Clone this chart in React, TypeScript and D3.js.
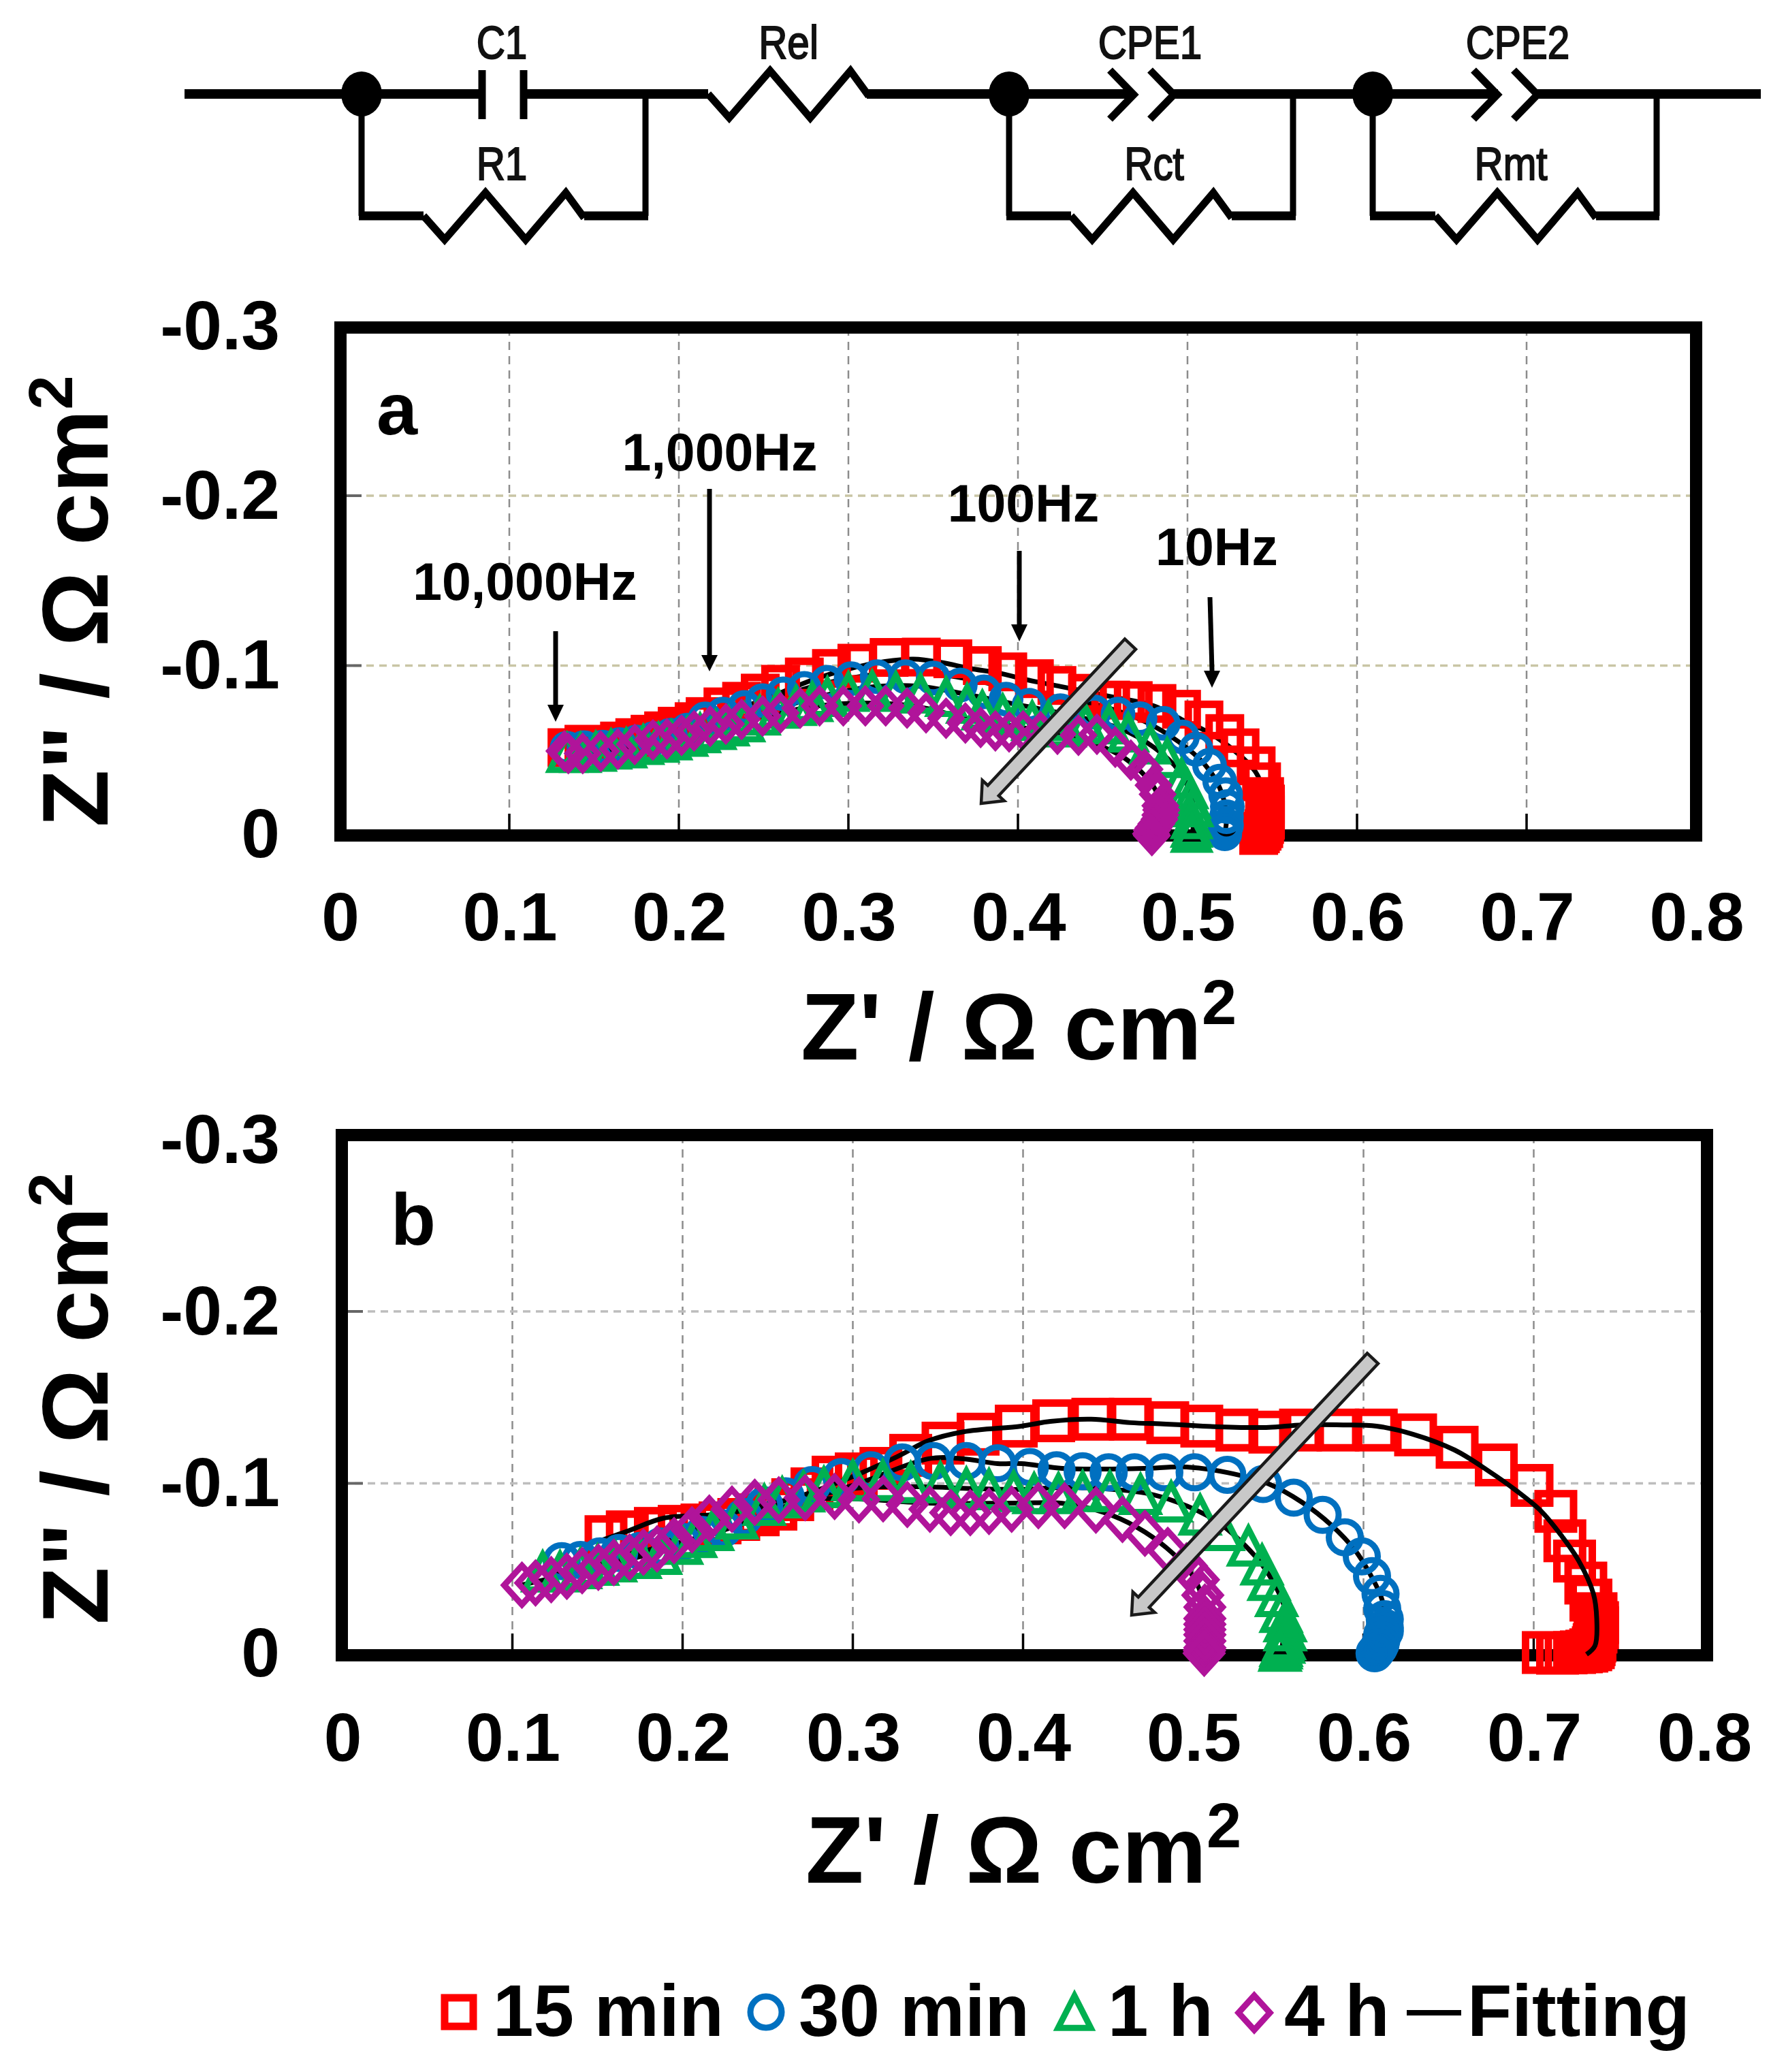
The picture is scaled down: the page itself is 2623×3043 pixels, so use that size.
import React from 'react';
import * as d3 from 'd3';

type Pt = [number, number];

const xTicks = [0, 0.1, 0.2, 0.3, 0.4, 0.5, 0.6, 0.7, 0.8];
const yTicks = [0, -0.1, -0.2, -0.3];
const xTickLabels = ['0', '0.1', '0.2', '0.3', '0.4', '0.5', '0.6', '0.7', '0.8'];
const yTickLabels = ['0', '-0.1', '-0.2', '-0.3'];

const legendLabels = ['15 min', '30 min', '1 h', '4 h', 'Fitting'];

// panel a: [Z', Z'']
const a15min: Pt[] = [[.134,-.0517],[.144,-.0537],[.155,-.053],[.165,-.0556],[.174,-.0576],[.183,-.0596],[.191,-.0616],[.199,-.0643],[.209,-.067],[.2155,-.07],[.226,-.0757],[.237,-.079],[.248,-.0838],[.26,-.089],[.274,-.0933],[.29,-.0983],[.305,-.1014],[.324,-.1048],[.343,-.105],[.3616,-.104],[.379,-.1],[.394,-.0963],[.4097,-.0923],[.423,-.0883],[.441,-.0837],[.4547,-.0797],[.468,-.0794],[.482,-.0777],[.4965,-.0743],[.5097,-.068],[.522,-.06],[.531,-.0516],[.5405,-.041],[.5437,-.0316],[.5455,-.0229],[.546,-.0185],[.546,-.0144],[.546,-.012],[.546,-.009],[.5455,-.0065],[.545,-.004],[.544,-.0025],[.543,-.001],[.542,0]];
const a30min: Pt[] = [[.134,-.0513],[.144,-.0517],[.155,-.052],[.165,-.0535],[.175,-.055],[.185,-.057],[.195,-.059],[.205,-.062],[.2155,-.0686],[.226,-.0714],[.2386,-.0754],[.2494,-.0794],[.2615,-.0834],[.274,-.0866],[.2876,-.0902],[.3016,-.0923],[.317,-.0935],[.3337,-.0935],[.35,-.0927],[.366,-.0886],[.38,-.0846],[.393,-.0803],[.4066,-.0767],[.425,-.0734],[.445,-.0727],[.459,-.0714],[.472,-.0687],[.4857,-.066],[.497,-.058],[.505,-.0507],[.513,-.0413],[.519,-.032],[.5225,-.024],[.5235,-.017],[.523,-.011],[.523,-.006],[.522,-.003],[.522,-.001]];
const a1h: Pt[] = [[.134,-.047],[.142,-.047],[.151,-.0477],[.16,-.049],[.169,-.0497],[.179,-.0517],[.188,-.053],[.1956,-.0544],[.205,-.0565],[.2125,-.0586],[.2217,-.0605],[.2294,-.0626],[.2386,-.065],[.2477,-.069],[.2586,-.073],[.269,-.0746],[.2787,-.077],[.2876,-.08],[.3,-.083],[.314,-.0838],[.328,-.083],[.3425,-.082],[.3576,-.08],[.37,-.076],[.379,-.072],[.391,-.0698],[.4,-.068],[.4084,-.0658],[.418,-.0658],[.428,-.062],[.44,-.064],[.4538,-.0638],[.465,-.059],[.478,-.052],[.488,-.044],[.4965,-.032],[.5,-.0257],[.5015,-.02],[.503,-.015],[.5025,-.008],[.5025,-.003],[.5025,0]];
const a4h: Pt[] = [[.1325,-.0497],[.1348,-.0483],[.1433,-.0483],[.154,-.0496],[.164,-.0509],[.174,-.0536],[.1847,-.0563],[.193,-.0569],[.2016,-.059],[.209,-.0616],[.2185,-.0643],[.2277,-.0656],[.237,-.0683],[.2494,-.0703],[.26,-.0722],[.2716,-.075],[.283,-.0763],[.297,-.0763],[.31,-.0763],[.322,-.0763],[.3346,-.075],[.3458,-.0722],[.3576,-.069],[.369,-.0662],[.378,-.0636],[.3867,-.0616],[.3948,-.061],[.403,-.0616],[.4133,-.061],[.4233,-.0596],[.4357,-.059],[.4466,-.0596],[.4574,-.052],[.4666,-.0443],[.4747,-.039],[.48,-.0296],[.4824,-.0242],[.484,-.0175],[.4845,-.015],[.484,-.012],[.4835,-.0095],[.4816,-.0068],[.48,-.0045],[.479,-.003],[.4785,-.001],[.479,0]];
const aFit15: Pt[] = [[.134,-.05],[.16,-.054],[.19,-.06],[.22,-.069],[.25,-.08],[.28,-.092],[.3,-.098],[.3217,-.1024],[.3384,-.1038],[.355,-.1018],[.3716,-.0983],[.3884,-.0957],[.405,-.0917],[.425,-.0877],[.455,-.0817],[.48,-.0763],[.4965,-.0683],[.513,-.0603],[.5297,-.0482],[.54,-.0376],[.545,-.0256],[.5457,-.0148],[.545,0]];
const aFit30: Pt[] = [[.134,-.05],[.16,-.052],[.19,-.058],[.22,-.067],[.25,-.078],[.28,-.088],[.31,-.094],[.335,-.096],[.36,-.094],[.39,-.088],[.42,-.082],[.45,-.076],[.475,-.067],[.495,-.055],[.51,-.042],[.519,-.028],[.523,-.012],[.522,-.001]];
const aFit1h: Pt[] = [[.134,-.048],[.16,-.05],[.19,-.054],[.22,-.062],[.25,-.072],[.28,-.081],[.31,-.087],[.34,-.088],[.37,-.083],[.4,-.077],[.43,-.071],[.46,-.063],[.48,-.052],[.495,-.038],[.503,-.02],[.503,-.001]];
const aFit4h: Pt[] = [[.133,-.049],[.16,-.051],[.19,-.056],[.22,-.063],[.25,-.07],[.28,-.076],[.31,-.078],[.34,-.076],[.37,-.069],[.4,-.064],[.43,-.058],[.455,-.05],[.47,-.04],[.482,-.025],[.484,-.01],[.481,-.001]];

// panel b
const b15min: Pt[] = [[.155,-.069],[.1675,-.0718],[.184,-.0738],[.198,-.075],[.2114,-.0758],[.222,-.077],[.233,-.079],[.2444,-.0817],[.2548,-.085],[.2647,-.0905],[.276,-.0968],[.2884,-.1036],[.302,-.1055],[.3165,-.1087],[.334,-.1163],[.353,-.1234],[.3736,-.1286],[.396,-.1333],[.418,-.1364],[.441,-.1373],[.463,-.1373],[.485,-.1353],[.505,-.1333],[.5256,-.131],[.545,-.1298],[.563,-.131],[.585,-.131],[.6075,-.131],[.6306,-.1282],[.655,-.121],[.678,-.1107],[.699,-.0988],[.713,-.0837],[.7183,-.0666],[.724,-.0548],[.7306,-.042],[.7336,-.0321],[.7366,-.0242],[.7375,-.019],[.7375,-.016],[.7366,-.0135],[.736,-.0083],[.7355,-.0062],[.735,-.0044],[.7335,-.0032],[.7312,-.0024],[.728,-.002],[.724,-.0016],[.719,-.0014],[.714,-.0012],[.7056,-.0016]];
const b30min: Pt[] = [[.129,-.0548],[.14,-.0554],[.1514,-.0575],[.1627,-.0595],[.175,-.0607],[.187,-.0633],[.1994,-.066],[.2116,-.07],[.224,-.0738],[.236,-.0805],[.248,-.0872],[.2605,-.0925],[.276,-.099],[.2933,-.1037],[.3107,-.1076],[.329,-.1122],[.3473,-.113],[.3667,-.113],[.385,-.1117],[.404,-.1095],[.4197,-.1076],[.435,-.107],[.4503,-.1064],[.4655,-.1064],[.483,-.1064],[.5008,-.1064],[.52,-.105],[.541,-.0996],[.559,-.0917],[.576,-.0817],[.589,-.0686],[.599,-.0575],[.605,-.046],[.61,-.0357],[.611,-.027],[.6125,-.021],[.6125,-.016],[.6125,-.014],[.611,-.012],[.6105,-.009],[.61,-.0065],[.609,-.0045],[.6075,-.0024],[.6065,-.0012]];
const b1h: Pt[] = [[.1178,-.047],[.128,-.047],[.14,-.0488],[.15,-.0508],[.1606,-.0528],[.175,-.0548],[.187,-.0572],[.1994,-.063],[.2076,-.067],[.2176,-.071],[.232,-.0778],[.248,-.0857],[.2585,-.09],[.271,-.0935],[.283,-.096],[.3,-.1],[.3176,-.1],[.334,-.0988],[.3514,-.0988],[.3667,-.0956],[.38,-.0948],[.3945,-.0937],[.4065,-.0925],[.4208,-.0925],[.435,-.0937],[.451,-.0937],[.469,-.092],[.487,-.0877],[.504,-.08],[.5176,-.071],[.5324,-.062],[.5404,-.051],[.5445,-.042],[.549,-.0326],[.5516,-.0234],[.554,-.018],[.554,-.0127],[.5535,-.0075],[.553,-.0055],[.5516,-.0036],[.5515,-.0022],[.551,-.0008]];
const b4h: Pt[] = [[.1056,-.0408],[.1136,-.0421],[.1228,-.044],[.132,-.046],[.141,-.0492],[.1505,-.0512],[.1596,-.054],[.1688,-.0571],[.177,-.06],[.185,-.0619],[.195,-.0667],[.2055,-.073],[.2157,-.0798],[.229,-.085],[.2424,-.089],[.2565,-.0904],[.272,-.0917],[.2893,-.0924],[.3036,-.0904],[.3178,-.091],[.332,-.0877],[.3453,-.085],[.3575,-.083],[.369,-.083],[.38,-.0837],[.3933,-.085],[.409,-.087],[.4244,-.087],[.4428,-.0845],[.4584,-.079],[.4716,-.071],[.485,-.061],[.496,-.052],[.503,-.044],[.5056,-.035],[.5068,-.028],[.5068,-.0214],[.5068,-.018],[.5068,-.015],[.5068,-.012],[.5068,-.0083],[.5068,-.0044],[.5066,-.0028],[.5064,-.0012]];
const bFit15: Pt[] = [[.15,-.066],[.1687,-.0726],[.189,-.0798],[.22,-.082],[.25,-.087],[.29,-.1],[.326,-.1155],[.344,-.1246],[.365,-.13],[.399,-.1333],[.416,-.136],[.44,-.1373],[.463,-.1353],[.484,-.1345],[.5057,-.1333],[.525,-.1326],[.5445,-.1326],[.564,-.134],[.588,-.134],[.6077,-.1333],[.629,-.1286],[.6535,-.1194],[.673,-.1075],[.69,-.0956],[.7045,-.0837],[.7167,-.069],[.7265,-.0548],[.735,-.036],[.737,-.0214],[.736,-.0056],[.731,-.0005]];
const bFit30: Pt[] = [[.13,-.05],[.16,-.057],[.2,-.066],[.24,-.078],[.27,-.09],[.3036,-.1],[.3445,-.1143],[.365,-.1143],[.385,-.1115],[.399,-.1115],[.423,-.1087],[.4477,-.1083],[.4716,-.1087],[.496,-.1095],[.52,-.1063],[.5445,-.0996],[.564,-.0889],[.581,-.0758],[.595,-.0611],[.605,-.0452],[.611,-.032],[.6125,-.019],[.61,-.0016]];
const bFit1h: Pt[] = [[.12,-.047],[.16,-.054],[.2,-.064],[.24,-.079],[.27,-.09],[.3,-.097],[.34,-.098],[.37,-.097],[.399,-.0965],[.423,-.0976],[.4477,-.0969],[.4716,-.0944],[.491,-.0889],[.513,-.0784],[.5276,-.0666],[.54,-.0532],[.549,-.0388],[.554,-.0256],[.5516,-.0016]];
const bFit4h: Pt[] = [[.106,-.041],[.14,-.049],[.17,-.057],[.2,-.07],[.23,-.083],[.26,-.09],[.3,-.091],[.3445,-.0885],[.397,-.0885],[.423,-.0884],[.4477,-.083],[.4668,-.0745],[.484,-.0627],[.4985,-.048],[.5056,-.032],[.5068,-.0016]];

const colors = { red: '#ff0000', blue: '#0070c0', green: '#00b050', purple: '#b0149a' };
const font = '"Liberation Sans", Arial, sans-serif';

const lineOf = (xs: d3.ScaleLinear<number, number>, ys: d3.ScaleLinear<number, number>) =>
  d3.line<Pt>().x(d => xs(d[0])).y(d => ys(d[1])).curve(d3.curveCatmullRom.alpha(0.5));

const Square = ({ x, y, s, w = 11 }: { x: number; y: number; s: number; w?: number }) => (
  <rect x={x - s / 2} y={y - s / 2} width={s} height={s} fill="none" stroke={colors.red} strokeWidth={w} />
);
const Circle = ({ x, y, s }: { x: number; y: number; s: number }) => (
  <circle cx={x} cy={y} r={s / 2} fill="none" stroke={colors.blue} strokeWidth={9} />
);
const Triangle = ({ x, y, s }: { x: number; y: number; s: number }) => (
  <path d={`M${x},${y - s * 0.56}L${x + s * 0.5},${y + s * 0.42}L${x - s * 0.5},${y + s * 0.42}Z`} fill="none" stroke={colors.green} strokeWidth={9} strokeLinejoin="miter" />
);
const Diamond = ({ x, y, s }: { x: number; y: number; s: number }) => (
  <path d={`M${x},${y - s * 0.55}L${x + s * 0.5},${y}L${x},${y + s * 0.55}L${x - s * 0.5},${y}Z`} fill="none" stroke={colors.purple} strokeWidth={9} />
);

type PanelProps = {
  left: number; right: number; frameTop: number; top: number; bottom: number; xStart: number; xEnd: number;
  letter: string; letterX: number; letterY: number;
  s15: Pt[]; s30: Pt[]; s1: Pt[]; s4: Pt[]; fits: Pt[][]; fitsOverRed: boolean;
  sizes: number[]; hGrid: string; xLabelY: number; tickLabelY: number; yLabelY: number; xLabelX: number;
  yLabelOffsets: number[]; children?: React.ReactNode;
};

function Panel(p: PanelProps) {
  const xs = d3.scaleLinear().domain([0, 0.8]).range([p.xStart, p.xEnd]);
  const ys = d3.scaleLinear().domain([0, -0.3]).range([p.bottom, p.top]);
  const line = lineOf(xs, ys);
  const fitLines = p.fits.map((f, i) => <path key={i} d={line(f) as string} fill="none" stroke="#000" strokeWidth={7} />);
  return (
    <g>
      {xTicks.slice(1, -1).map(t => (
        <line key={t} x1={xs(t)} x2={xs(t)} y1={p.frameTop} y2={p.bottom} stroke="#8c8c8c" strokeWidth={2.5} strokeDasharray="12 9" />
      ))}
      {yTicks.slice(1, -1).map(t => (
        <line key={t} x1={p.left} x2={p.right} y1={ys(t)} y2={ys(t)} stroke={p.hGrid} strokeWidth={3.5} strokeDasharray="11 8" />
      ))}
      {xTicks.slice(1, -1).map(t => (
        <line key={t} x1={xs(t)} x2={xs(t)} y1={p.bottom - 32} y2={p.bottom} stroke="#000" strokeWidth={3.5} />
      ))}
      {yTicks.slice(1, -1).map(t => (
        <line key={t} x1={p.left} x2={p.left + 31} y1={ys(t)} y2={ys(t)} stroke="#666" strokeWidth={4} />
      ))}
      <rect x={p.left} y={p.frameTop} width={p.right - p.left} height={p.bottom - p.frameTop} fill="none" stroke="#000" strokeWidth={18} />
      {!p.fitsOverRed && fitLines}
      {p.s15.map((d, i) => <Square key={i} x={xs(d[0])} y={ys(d[1])} s={p.sizes[0]} />)}
      {p.fitsOverRed && fitLines}
      {p.s30.map((d, i) => <Circle key={i} x={xs(d[0])} y={ys(d[1])} s={p.sizes[1]} />)}
      {p.s1.map((d, i) => <Triangle key={i} x={xs(d[0])} y={ys(d[1])} s={p.sizes[2]} />)}
      {p.s4.map((d, i) => <Diamond key={i} x={xs(d[0])} y={ys(d[1])} s={p.sizes[3]} />)}
      {xTicks.map((t, i) => (
        <text key={t} x={xs(t) + 1} y={p.tickLabelY} textAnchor="middle" fontFamily={font} fontWeight="bold" fontSize={100}>{xTickLabels[i]}</text>
      ))}
      {yTicks.map((t, i) => (
        <text key={t} x={411} y={p.yLabelOffsets[i]} textAnchor="end" fontFamily={font} fontWeight="bold" fontSize={102}>{yTickLabels[i]}</text>
      ))}
      <text x={p.xLabelX} y={p.xLabelY} textAnchor="middle" fontFamily={font} fontWeight="bold" fontSize={140}>
        Z' / Ω cm<tspan fontSize={92} dy={-52}>2</tspan>
      </text>
      <text transform={`translate(158,${p.yLabelY}) rotate(-90)`} textAnchor="middle" fontFamily={font} fontWeight="bold" fontSize={138}>
        Z" / Ω cm<tspan fontSize={90} dy={-52}>2</tspan>
      </text>
      <text x={p.letterX} y={p.letterY} textAnchor="middle" fontFamily={font} fontWeight="bold" fontSize={108}>{p.letter}</text>
      {p.children}
    </g>
  );
}

const Arrow = ({ x1, x2, top, tip, head }: { x1: number; x2: number; top: number; tip: number; head: number }) => (
  <g>
    <line x1={x1} y1={top} x2={x2} y2={head} stroke="#000" strokeWidth={7} />
    <path d={`M${x2},${tip}L${x2 + 12},${head}L${x2 - 12},${head}Z`} fill="#000" />
  </g>
);

// grey trend arrow, tail and tip in pixels
const TrendArrow = ({ tx, ty, hx, hy }: { tx: number; ty: number; hx: number; hy: number }) => {
  const a = Math.atan2(hy - ty, hx - tx);
  const len = Math.hypot(hx - tx, hy - ty);
  const hw = 11;
  const headLen = 26;
  const headW = 22;
  const pts: Pt[] = [
    [0, -hw], [len - headLen, -hw], [len - headLen, -headW], [len, 0], [len - headLen, headW], [len - headLen, hw], [0, hw],
  ];
  const d = pts.map(([u, v]) => `${tx + u * Math.cos(a) - v * Math.sin(a)},${ty + u * Math.sin(a) + v * Math.cos(a)}`).join(' ');
  return <polygon points={d} fill="#c8c8c8" stroke="#1a1a1a" strokeWidth={4.5} />;
};

const Zig = ({ x, y }: { x: number; y: number }) => (
  // resistor symbol, x is its left end
  <path d={`M${x},${y}L${x + 31},${y + 35}L${x + 91},${y - 34}L${x + 150},${y + 35}L${x + 209},${y - 34}L${x + 236},${y + 3}`} fill="none" stroke="#000" strokeWidth={11} />
);
const Chevrons = ({ x }: { x: number }) => (
  <path d={`M${x},103L${x + 35},139L${x},175M${x + 59},103L${x + 94},139L${x + 59},175`} fill="none" stroke="#000" strokeWidth={11} />
);
const Node = ({ x }: { x: number }) => <ellipse cx={x} cy={138} rx={30} ry={33} fill="#000" />;
const cLabel = (t: string, x: number, y: number) => (
  <text transform={`translate(${x},${y}) scale(0.86,1)`} textAnchor="middle" fontFamily={font} fontSize={68} fill="#111" stroke="#111" strokeWidth={2}>{t}</text>
);

function Circuit() {
  const wire = { stroke: '#000', fill: 'none' };
  return (
    <g>
      <path d="M271,138H708M769,138H1040M1273,138H1665M1724,138H2200M2258,138H2586" strokeWidth={14} {...wire} />
      <Zig x={1040} y={138} />
      <line x1={708} x2={708} y1={103} y2={175} stroke="#000" strokeWidth={11} />
      <line x1={769} x2={769} y1={103} y2={175} stroke="#000" strokeWidth={11} />
      <Chevrons x={1630} />
      <Chevrons x={2164} />
      <Node x={531} /><Node x={1482} /><Node x={2016} />
      {[[531, 948, 622], [1482, 1899, 1573], [2016, 2433, 2108]].map(([l, r, z]) => (
        <g key={l}>
          <path d={`M${l},138V317`} strokeWidth={9} {...wire} />
          <path d={`M${r},138V317`} strokeWidth={9} {...wire} />
          <path d={`M${l - 4},317H${z}M${z + 236},317H${r + 4}`} strokeWidth={13} {...wire} />
          <Zig x={z} y={317} />
        </g>
      ))}
      {cLabel('C1', 737, 86)}
      {cLabel('Rel', 1158, 86)}
      {cLabel('CPE1', 1689, 86)}
      {cLabel('CPE2', 2229, 86)}
      {cLabel('R1', 737, 264)}
      {cLabel('Rct', 1695, 264)}
      {cLabel('Rmt', 2219, 264)}
    </g>
  );
}

function Legend() {
  const t = (s: string, x: number) => (
    <text x={x} y={2990} fontFamily={font} fontWeight="bold" fontSize={107}>{s}</text>
  );
  return (
    <g>
      <Square x={674} y={2955} s={42} />
      {t(legendLabels[0], 724)}
      <Circle x={1125} y={2955} s={46} />
      {t(legendLabels[1], 1173)}
      <Triangle x={1578} y={2958} s={48} />
      {t(legendLabels[2], 1627)}
      <Diamond x={1842} y={2956} s={46} />
      {t(legendLabels[3], 1886)}
      <line x1={2066} x2={2146} y1={2956} y2={2956} stroke="#000" strokeWidth={8} />
      {t(legendLabels[4], 2155)}
    </g>
  );
}

export default function App() {
  const ann = (s: string, x: number, y: number) => (
    <text x={x} y={y} textAnchor="middle" fontFamily={font} fontWeight="bold" fontSize={77}>{s}</text>
  );
  return (
    <svg width={2623} height={3043} viewBox="0 0 2623 3043" style={{ position: 'absolute', left: 0, top: 0, background: '#fff' }}>
      <Circuit />
      <Panel left={500} right={2491} frameTop={481} top={478.5} bottom={1227} xStart={499} xEnd={2491}
        letter="a" letterX={583} letterY={638}
        s15={a15min} s30={a30min} s1={a1h} s4={a4h} fits={[aFit15, aFit30, aFit1h, aFit4h]} fitsOverRed={false}
        sizes={[46, 42, 50, 44]} hGrid="#c9c5a5" xLabelY={1556} tickLabelY={1381} yLabelY={883} xLabelX={1496}
        yLabelOffsets={[1259, 1011, 762, 513]}>
        <TrendArrow tx={1660} ty={946} hx={1441} hy={1180} />
        <Arrow x1={816} x2={816} top={927} tip={1060} head={1035} />
        <Arrow x1={1042} x2={1042} top={718} tip={986} head={962} />
        <Arrow x1={1497} x2={1497} top={809} tip={942} head={917} />
        <Arrow x1={1777} x2={1780} top={877} tip={1010} head={985} />
        {ann('10,000Hz', 771, 881)}
        {ann('1,000Hz', 1057, 691)}
        {ann('100Hz', 1503, 766)}
        {ann('10Hz', 1787, 830)}
      </Panel>
      <Panel left={502} right={2507} frameTop={1667} top={1673.5} bottom={2431} xStart={502.5} xEnd={2502.5}
        letter="b" letterX={607} letterY={1828}
        s15={b15min} s30={b30min} s1={b1h} s4={b4h} fits={[bFit15, bFit30, bFit1h, bFit4h]} fitsOverRed={true}
        sizes={[52, 47, 52, 52]} hGrid="#bdbdbd" xLabelY={2765} tickLabelY={2586} yLabelY={2054} xLabelX={1503}
        yLabelOffsets={[2462, 2212, 1960, 1708]}>
        <TrendArrow tx={2016} ty={1995} hx={1662} hy={2372} />
      </Panel>
      <Legend />
    </svg>
  );
}
